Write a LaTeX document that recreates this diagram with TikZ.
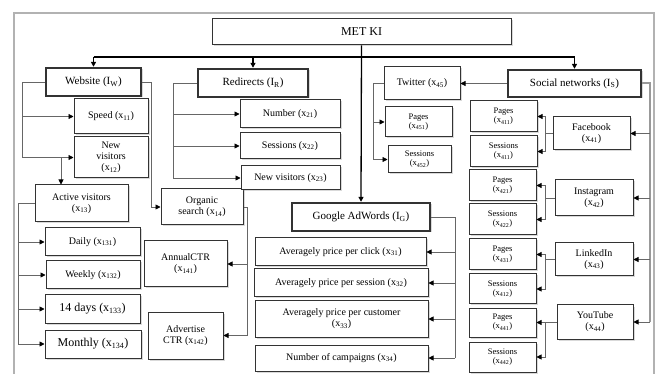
\documentclass[tikz,border=0pt]{standalone}
\usepackage{fontspec}
\setmainfont{Liberation Serif}
\usetikzlibrary{arrows.meta,shadows}
\newcommand\xs[1]{(x\textsubscript{#1})}
\begin{document}
\begin{tikzpicture}[x=1pt, y=-1pt,
    every node/.style={font=\fontsize{10}{11}\selectfont, align=center},
    sz/.style 2 args={minimum width=#1, minimum height=#2},
    box/.style={draw=black!80, line width=1pt, fill=white, inner sep=1pt,
      drop shadow={shadow xshift=1.5pt, shadow yshift=-1.5pt, opacity=0.3}},
    mainbox/.style={box, line width=2.4pt, font=\fontsize{11}{12}\selectfont},
    small/.style={font=\fontsize{8.5}{9}\selectfont},
    big/.style={font=\fontsize{12}{13}\selectfont},
    conn/.style={draw=black!60, line width=0.7pt},
    tip/.style={conn, -{Triangle[length=5pt, width=5pt, color=black]}},
    trunk/.style={draw=black, line width=1.3pt}]
  \useasboundingbox (0,0) rectangle (659,374);
  \draw[black!30, line width=1.2pt] (14,374) -- (14,13) -- (654,13) -- (654,374);
  % top level
  \node[box, sz={299}{26}, big] (metki) at (361.5,32) {MET KI};
  \node[mainbox, sz={95}{28}] (web) at (93.5,82) {Website (I\textsubscript{W})};
  \node[mainbox, sz={110}{28}] (red) at (253,83) {Redirects (I\textsubscript{R})};
  \node[mainbox, sz={133}{27}] (soc) at (574.5,83.5) {Social networks (I\textsubscript{S})};
  \node[mainbox, sz={138}{28}] (google) at (361,217) {Google AdWords (I\textsubscript{G})};
  % website
  \node[box, sz={74}{35}] (speed) at (111,116.5) {Speed \xs{11}};
  \node[box, sz={74}{41}] (newvis) at (111,157.5) {New\\visitors\\\xs{12}};
  \node[box, sz={93}{37}] (active) at (81.5,203.5) {Active visitors\\\xs{13}};
  \node[box, sz={95}{28}] (daily) at (92.5,242) {Daily \xs{131}};
  \node[box, sz={94}{28}] (weekly) at (93,275) {Weekly \xs{132}};
  \node[box, sz={95}{28}, big] (days) at (92.5,309) {14 days \xs{133}};
  \node[box, sz={96}{28}, big] (monthly) at (93,344) {Monthly \xs{134}};
  \node[box, sz={82}{36}] (organic) at (202,207) {Organic\\search \xs{14}};
  \node[box, sz={83}{46}] (annual) at (185.5,264) {AnnualCTR\\\xs{141}};
  \node[box, sz={75}{47}] (advert) at (185.5,335.5) {Advertise\\CTR \xs{142}};
  % redirects
  \node[box, sz={100}{28}] (number) at (290,114) {Number \xs{21}};
  \node[box, sz={100}{26}] (sessr) at (290,146) {Sessions \xs{22}};
  \node[box, sz={99}{24}] (newvisr) at (290.5,178) {New visitors \xs{23}};
  % google adwords
  \node[box, sz={171}{28}] (click) at (340.5,252) {Averagely price per click \xs{31}};
  \node[box, sz={174}{28}] (session) at (341,283) {Averagely price per session \xs{32}};
  \node[box, sz={173}{36}] (customer) at (341.5,319) {Averagely price per customer\\\xs{33}};
  \node[box, sz={173}{26}] (campaigns) at (341.5,358) {Number of campaigns \xs{34}};
  % social networks
  \node[box, sz={76}{33}] (tw) at (422,83.5) {Twitter \xs{45}};
  \node[box, sz={67}{30}, small] (pagest) at (418.5,122) {Pages\\\xs{451}};
  \node[box, sz={63}{27}, small] (sesst) at (419.5,159.5) {Sessions\\\xs{452}};
  \node[box, sz={77}{33}] (facebook) at (591.5,133.5) {Facebook\\\xs{41}};
  \node[box, sz={78}{36}] (instagram) at (594,198) {Instagram\\\xs{42}};
  \node[box, sz={78}{33}] (linkedin) at (594,259.5) {LinkedIn\\\xs{43}};
  \node[box, sz={76}{34}] (youtube) at (595,322) {YouTube\\\xs{44}};
  \node[box, sz={67}{31}, small] (pfb) at (503.5,116.5) {Pages\\\xs{411}};
  \node[box, sz={67}{31}, small] (sfb) at (503.5,151.5) {Sessions\\\xs{411}};
  \node[box, sz={67}{31}, small] (pin) at (502.5,185.5) {Pages\\\xs{421}};
  \node[box, sz={67}{31}, small] (sin) at (502.5,219.5) {Sessions\\\xs{422}};
  \node[box, sz={67}{31}, small] (pli) at (502.5,254.5) {Pages\\\xs{431}};
  \node[box, sz={67}{30}, small] (sli) at (502.5,289) {Sessions\\\xs{412}};
  \node[box, sz={67}{29}, small] (pyt) at (502.5,322.5) {Pages\\\xs{441}};
  \node[box, sz={67}{30}, small] (syt) at (502.5,357) {Sessions\\\xs{442}};
  % connectors
  \coordinate (bus) at (0,57);
  \draw[trunk, -{Triangle[length=5pt, width=5pt]}] (metki.south) -- (google.north);
  \draw[trunk] (web.north |- bus) -- (soc.north |- bus);
  \foreach \n in {web,red,soc} \draw[trunk, -{Triangle[length=5pt, width=5pt]}] (\n.north |- bus) -- (\n.north);
  \draw[conn] (web.west) -- (22,0 |- web.west) -- (22,0 |- newvis.west);
  \foreach \n in {speed,newvis} \draw[tip] (22,0 |- \n.west) -- (\n.west);
  \draw[tip] (61,0 |- newvis.west) -- (61,0 |- active.north);
  \draw[tip] (web.east) -- (151,0 |- web.east) |- (organic.west);
  \draw[conn] (active.west) -- (18,0 |- active.west) -- (18,0 |- monthly.west);
  \foreach \n in {daily,weekly,days,monthly} \draw[tip] (18,0 |- \n.west) -- (\n.west);
  \draw[conn] (organic.east) -- (247,0 |- organic.east) -- (247,0 |- advert.east);
  \foreach \n in {annual,advert} \draw[tip] (247,0 |- \n.east) -- (\n.east);
  \draw[conn] (red.west) -- (173,0 |- red.west) -- (173,0 |- newvisr.west);
  \foreach \n in {number,sessr,newvisr} \draw[tip] (173,0 |- \n.west) -- (\n.west);
  \draw[conn] (google.east) -- (455,0 |- google.east) -- (455,0 |- campaigns.east);
  \foreach \n in {click,session,customer,campaigns} \draw[tip] (455,0 |- \n.east) -- (\n.east);
  \draw[tip] (soc.west) -- (tw.east);
  \draw[conn] (tw.west) -- (373,0 |- tw.west) -- (373,0 |- sesst.west);
  \foreach \n in {pagest,sesst} \draw[tip] (373,0 |- \n.west) -- (\n.west);
  \draw[conn, draw=black!40, line width=2pt] (soc.east) -- (650,0 |- soc.east) -- (650,0 |- youtube.east);
  \foreach \n in {facebook,instagram,linkedin,youtube} \draw[tip] (650,0 |- \n.east) -- (\n.east);
  \foreach \s/\p/\q in {facebook/pfb/sfb, instagram/pin/sin, linkedin/pli/sli, youtube/pyt/syt} {
    \draw[conn] (\s.west) -- (545,0 |- \s.west);
    \draw[tip] (545,0 |- \s.west) |- (\p.east);
    \draw[tip] (545,0 |- \s.west) |- (\q.east);
  }
\end{tikzpicture}
\end{document}
